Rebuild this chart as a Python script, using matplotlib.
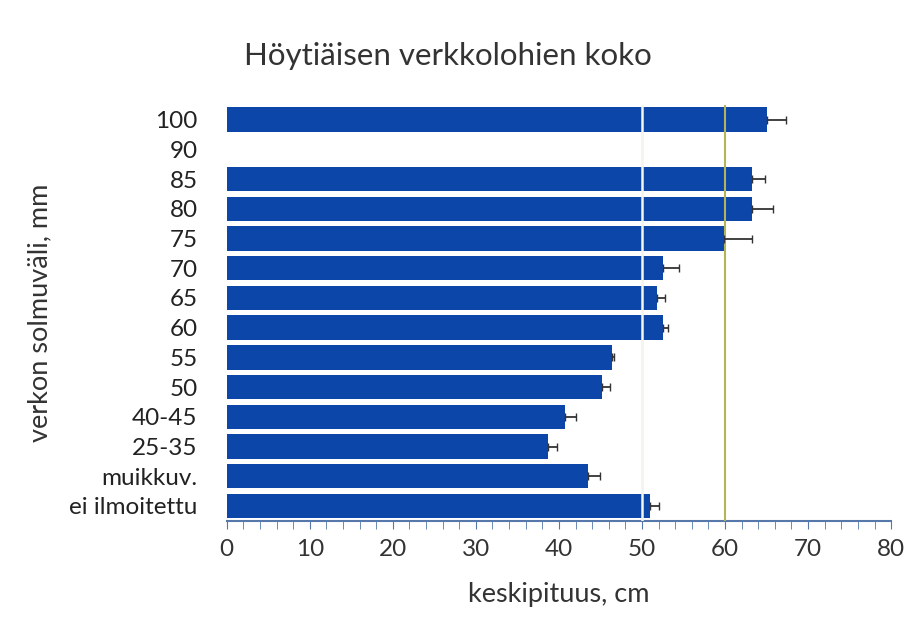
import matplotlib.pyplot as plt
from matplotlib.ticker import MultipleLocator

categories = ["100", "90", "85", "80", "75", "70", "65", "60", "55", "50",
              "40-45", "25-35", "muikkuv.", "ei ilmoitettu"]
mean_len = [65.1, 0, 63.2, 63.2, 59.9, 52.5, 51.8, 52.5, 46.4, 45.2,
            40.7, 38.7, 43.5, 51.0]
err = [2.2, 0, 1.6, 2.6, 3.3, 2.0, 1.0, 0.6, 0.2, 1.0,
       1.3, 1.1, 1.4, 1.1]

plt.rcParams['font.family'] = ['Lato', 'DejaVu Sans']

fig = plt.figure(figsize=(9.14, 6.2), dpi=100)
ax = fig.add_axes([0.248, 0.16, 0.727, 0.671])

ypos = list(range(len(categories)))
ax.barh(ypos, mean_len, height=0.82, color="#0b46a8", zorder=2)
ax.errorbar(mean_len[:1] + mean_len[2:], ypos[:1] + ypos[2:],
            xerr=[[0] * 13, err[:1] + err[2:]], fmt="none",
            ecolor="#333333", elinewidth=1.3, capsize=3, zorder=4)
ax.axvline(50, color="#f4f4ec", lw=1.8, zorder=3)
ax.axvline(60, color="#b3b35a", lw=1.5, zorder=3)

ax.set_ylim(len(categories) - 0.5, -0.5)
ax.set_xlim(0, 80)
ax.set_yticks(ypos)
ax.set_yticklabels(categories, fontsize=17.5, color="#222222")
ax.tick_params(axis="y", length=0, pad=21)
ax.xaxis.set_major_locator(MultipleLocator(10))
ax.xaxis.set_minor_locator(MultipleLocator(2))
ax.tick_params(axis="x", which="both", direction="out", length=6,
               color="#5577aa", labelsize=17.5, labelcolor="#333333", pad=7)

for s in ["top", "right", "left"]:
    ax.spines[s].set_visible(False)
ax.spines["bottom"].set_color("#5577aa")
ax.spines["bottom"].set_linewidth(1.5)

ax.set_xlabel("keskipituus, cm", fontsize=19.5, color="#333333", labelpad=16)
ax.set_ylabel("verkon solmuväli, mm", fontsize=19.5, color="#333333", labelpad=12)
fig.text(0.49, 0.895, "Höytiäisen verkkolohien koko", ha="center",
         fontsize=22.5, color="#333333")

fig.savefig("out.png", dpi=100)
